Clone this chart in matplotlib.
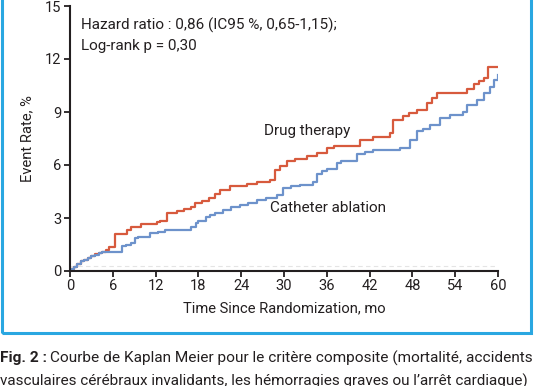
import matplotlib.pyplot as plt
from matplotlib.patches import Rectangle

# Kaplan Meier step points (month, event rate %)
drug_t = [0, 0.5, 1, 1.5, 2, 2.5, 3, 3.5, 4, 4.5,
          5, 5.5, 6.3, 8, 8.5, 10, 12.2, 12.6, 13.6, 15,
          16, 17, 17.5, 18.5, 19.5, 20.3, 21, 22.4, 24.8, 26.2,
          28, 28.8, 29.5, 30.4, 31.5, 33.2, 34.6, 36, 37, 40.7,
          42.5, 44.9, 45.3, 46.7, 47.5, 48.6, 50, 50.8, 51.4, 55.7,
          56.6, 57.3, 58, 58.6, 60]
drug_v = [0.1, 0.25, 0.4, 0.55, 0.65, 0.75, 0.85, 0.95, 1.0, 1.1,
          1.2, 1.35, 2.1, 2.3, 2.5, 2.68, 2.75, 2.85, 3.3, 3.42,
          3.52, 3.62, 3.85, 3.95, 4.15, 4.35, 4.6, 4.8, 4.95, 5.05,
          5.15, 5.7, 5.95, 6.2, 6.35, 6.5, 6.7, 6.95, 7.05, 7.4,
          7.6, 7.8, 8.55, 8.8, 8.95, 9.1, 9.5, 9.8, 10.05, 10.3,
          10.6, 10.75, 10.9, 11.55, 11.55]

abl_t = [0, 0.5, 1, 1.5, 2, 2.5, 3, 3.5, 4, 4.5,
         7.3, 7.8, 8.5, 9.1, 9.6, 11.2, 12.3, 13.3, 17, 17.6,
         18, 19, 19.6, 20.3, 21.5, 22.5, 23.8, 25, 26.2, 27.5,
         29, 29.9, 31, 32.3, 34.1, 34.6, 35.3, 36, 37.4, 38,
         40.2, 41.3, 42.5, 46.3, 47.7, 48.6, 49.5, 50.5, 51.9, 53.3,
         55.1, 55.7, 57, 58, 58.9, 59.5, 60]
abl_v = [0.1, 0.25, 0.4, 0.55, 0.65, 0.75, 0.85, 0.92, 1.0, 1.1,
         1.4, 1.5, 1.6, 1.85, 1.95, 2.13, 2.22, 2.32, 2.5, 2.7,
         2.85, 3.05, 3.17, 3.26, 3.45, 3.6, 3.73, 3.85, 4.0, 4.15,
         4.3, 4.7, 4.8, 4.87, 5.05, 5.5, 5.65, 5.8, 6.1, 6.25,
         6.65, 6.75, 6.85, 6.95, 7.4, 7.9, 8.05, 8.26, 8.66, 8.83,
         9.0, 9.4, 9.7, 10.07, 10.4, 10.8, 11.1]

x_ticks = [0, 6, 12, 18, 24, 30, 36, 42, 48, 54, 60]
y_ticks = [0, 3, 6, 9, 12, 15]

plt.rcParams['font.family'] = ['Roboto', 'DejaVu Sans']
txt = '#231f20'

fig = plt.figure(figsize=(5.36, 3.86), dpi=100)

# light blue frame around the chart
fig.patches.append(Rectangle((2 / 536, 1 - 333 / 386), 529 / 536, 340 / 386,
                             transform=fig.transFigure, fill=False,
                             edgecolor='#2aa7e1', linewidth=2.2))

ax = fig.add_axes([70 / 536, 1 - 271 / 386, 428 / 536, 265 / 386])
ax.plot(drug_t, drug_v, drawstyle='steps-post', color='#d75a3d', lw=1.6)
ax.plot(abl_t, abl_v, drawstyle='steps-post', color='#6d92cb', lw=1.6)
ax.axhline(0.3, color='#e4e4e4', lw=0.8, ls=(0, (4, 3)), zorder=0)

ax.set_xlim(0, 60)
ax.set_ylim(0, 15)
ax.set_xticks(x_ticks)
ax.set_yticks(y_ticks)
for s in ['top', 'right']:
    ax.spines[s].set_visible(False)
for s in ['left', 'bottom']:
    ax.spines[s].set_linewidth(1.5)
    ax.spines[s].set_color(txt)
ax.tick_params(length=4, width=1.3, labelsize=10.5, colors=txt, pad=2)
ax.set_xlabel('Time Since Randomization, mo', fontsize=10.6, color=txt, labelpad=6)
ax.set_ylabel('Event Rate, %', fontsize=10.6, color=txt, labelpad=8)

ax.text(1.6, 13.9, 'Hazard ratio : 0,86 (IC95 %, 0,65-1,15);', fontsize=11,
        color=txt, va='center')
ax.text(1.6, 12.75, 'Log-rank p = 0,30', fontsize=11, color=txt, va='center')
ax.text(27.2, 7.9, 'Drug therapy', fontsize=11, color=txt, va='center')
ax.text(28, 3.55, 'Catheter ablation', fontsize=11, color=txt, va='center')

# caption below the frame (second line is cut by the picture edge, as in the source)
y1 = 1 - 358 / 386
t1 = fig.text(0.0, y1, 'Fig. 2 :', fontsize=11.1, fontweight='bold',
              color=txt, va='center')
fig.canvas.draw()
bb = t1.get_window_extent()
fig.text(bb.x1 / 536 + 0.005, y1,
         'Courbe de Kaplan Meier pour le critère composite (mortalité, accidents',
         fontsize=11.1, color=txt, va='center')
fig.text(0.0, 1 - 374 / 386,
         'vasculaires cérébraux invalidants, les hémorragies graves ou l\u2019arrêt cardiaque)',
         fontsize=11, color=txt, va='top')

fig.savefig('out.png', dpi=100)
